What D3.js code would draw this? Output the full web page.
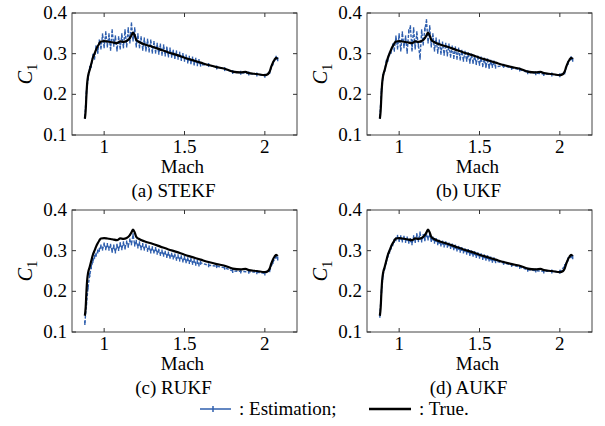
<!DOCTYPE html>
<html>
<head>
<meta charset="utf-8">
<script src="https://cdn.jsdelivr.net/npm/d3@7"></script>
<style>
    body { margin: 0; background: #fff; }
    svg text { font-family: "Liberation Serif"; }
</style>
</head>
<body>
<div id="chart"></div>
<script>

// true C1 curve
let machTrue = [0.88, 0.885, 0.89, 0.895, 0.90, 0.91, 0.92, 0.93, 0.94, 0.95, 0.96, 0.97, 0.98, 1.00, 1.02, 1.05, 1.08, 1.10, 1.12, 1.14,
    1.16, 1.17, 1.18, 1.19, 1.20, 1.22, 1.25, 1.30, 1.35, 1.40, 1.45, 1.50, 1.55, 1.60, 1.65, 1.70, 1.75, 1.80, 1.85, 1.88,
    1.90, 1.95, 2.00, 2.02, 2.03, 2.04, 2.05, 2.06, 2.07, 2.08];
let c1True = [0.140, 0.160, 0.200, 0.230, 0.245, 0.260, 0.275, 0.290, 0.300, 0.310, 0.318, 0.325, 0.330, 0.331, 0.330, 0.328, 0.326, 0.330, 0.329, 0.331,
    0.338, 0.345, 0.352, 0.345, 0.334, 0.328, 0.323, 0.317, 0.310, 0.303, 0.297, 0.290, 0.284, 0.278, 0.272, 0.267, 0.263, 0.256, 0.254, 0.255,
    0.252, 0.250, 0.247, 0.250, 0.256, 0.268, 0.278, 0.285, 0.290, 0.287];

// estimation samples
let machEst = [0.88, 0.89, 0.90, 0.91, 0.92, 0.93, 0.94, 0.95, 0.96, 0.97,
    0.98, 0.99, 1.00, 1.01, 1.02, 1.03, 1.04, 1.05, 1.06, 1.07,
    1.08, 1.09, 1.10, 1.11, 1.12, 1.13, 1.14, 1.15, 1.16, 1.17,
    1.18, 1.19, 1.20, 1.21, 1.22, 1.23, 1.24, 1.25, 1.26, 1.27,
    1.28, 1.29, 1.30, 1.31, 1.32, 1.33, 1.34, 1.35, 1.36, 1.37,
    1.38, 1.39, 1.40, 1.41, 1.42, 1.43, 1.44, 1.45, 1.46, 1.47,
    1.48, 1.49, 1.50, 1.51, 1.52, 1.53, 1.54, 1.55, 1.56, 1.57,
    1.58, 1.59, 1.60, 1.65, 1.70, 1.75, 1.80, 1.85, 1.90, 1.95,
    2.00, 2.03, 2.05, 2.07, 2.08];

let estSTEKF = [0.145, 0.205, 0.240, 0.265, 0.270, 0.295, 0.290, 0.315, 0.305, 0.330,
    0.315, 0.345, 0.318, 0.350, 0.320, 0.345, 0.312, 0.355, 0.322, 0.340,
    0.310, 0.338, 0.315, 0.345, 0.318, 0.355, 0.320, 0.360, 0.330, 0.372,
    0.335, 0.360, 0.320, 0.345, 0.318, 0.338, 0.312, 0.335, 0.310, 0.332,
    0.308, 0.330, 0.305, 0.326, 0.305, 0.322, 0.302, 0.320, 0.300, 0.318,
    0.298, 0.312, 0.296, 0.310, 0.295, 0.305, 0.292, 0.303, 0.290, 0.300,
    0.287, 0.297, 0.285, 0.293, 0.281, 0.290, 0.279, 0.288, 0.276, 0.285,
    0.274, 0.282, 0.273, 0.272, 0.266, 0.262, 0.255, 0.253, 0.251, 0.249,
    0.246, 0.255, 0.276, 0.290, 0.286];

let estUKF = [0.145, 0.210, 0.245, 0.260, 0.280, 0.285, 0.300, 0.305, 0.320, 0.310,
    0.340, 0.315, 0.345, 0.310, 0.350, 0.318, 0.340, 0.305, 0.355, 0.365,
    0.310, 0.360, 0.315, 0.350, 0.320, 0.290, 0.355, 0.325, 0.360, 0.380,
    0.330, 0.365, 0.320, 0.345, 0.310, 0.335, 0.305, 0.330, 0.302, 0.325,
    0.300, 0.322, 0.298, 0.320, 0.295, 0.315, 0.292, 0.313, 0.290, 0.310,
    0.288, 0.305, 0.285, 0.302, 0.285, 0.298, 0.280, 0.295, 0.280, 0.292,
    0.277, 0.290, 0.275, 0.288, 0.272, 0.285, 0.270, 0.283, 0.268, 0.280,
    0.270, 0.278, 0.268, 0.270, 0.265, 0.261, 0.254, 0.252, 0.250, 0.249,
    0.247, 0.254, 0.277, 0.289, 0.285];

let estRUKF = [0.122, 0.170, 0.210, 0.240, 0.260, 0.275, 0.285, 0.290, 0.298, 0.302,
    0.310, 0.305, 0.315, 0.306, 0.314, 0.305, 0.312, 0.300, 0.310, 0.298,
    0.312, 0.304, 0.316, 0.306, 0.318, 0.308, 0.320, 0.312, 0.325, 0.318,
    0.338, 0.315, 0.322, 0.310, 0.318, 0.306, 0.314, 0.305, 0.312, 0.302,
    0.308, 0.298, 0.306, 0.298, 0.304, 0.295, 0.300, 0.292, 0.298, 0.290,
    0.295, 0.287, 0.293, 0.285, 0.290, 0.283, 0.288, 0.280, 0.286, 0.278,
    0.284, 0.276, 0.282, 0.274, 0.279, 0.272, 0.277, 0.270, 0.275, 0.268,
    0.272, 0.266, 0.270, 0.264, 0.262, 0.258, 0.250, 0.249, 0.248, 0.247,
    0.244, 0.252, 0.272, 0.285, 0.281];

let estAUKF = [0.140, 0.200, 0.240, 0.258, 0.272, 0.288, 0.298, 0.308, 0.316, 0.324,
    0.328, 0.334, 0.326, 0.333, 0.325, 0.332, 0.324, 0.330, 0.322, 0.326,
    0.318, 0.333, 0.324, 0.338, 0.326, 0.342, 0.325, 0.336, 0.328, 0.340,
    0.330, 0.338, 0.326, 0.330, 0.322, 0.326, 0.318, 0.322, 0.315, 0.320,
    0.313, 0.318, 0.312, 0.315, 0.309, 0.313, 0.306, 0.310, 0.303, 0.307,
    0.300, 0.304, 0.298, 0.301, 0.295, 0.299, 0.292, 0.296, 0.290, 0.294,
    0.287, 0.291, 0.285, 0.289, 0.282, 0.286, 0.280, 0.284, 0.278, 0.281,
    0.275, 0.279, 0.274, 0.270, 0.265, 0.260, 0.253, 0.251, 0.249, 0.249,
    0.248, 0.262, 0.278, 0.286, 0.284];

let captions = ["(a) STEKF", "(b) UKF", "(c) RUKF", "(d) AUKF"];
let xTicks = [1, 1.5, 2];
let yTicks = [0.1, 0.2, 0.3, 0.4];
let legendLabels = [": Estimation;", ": True."];

let blue = "#2f5fae";
let width = 605, height = 426;

let svg = d3.select("#chart").append("svg")
    .attr("width", width)
    .attr("height", height);

// panel boxes (left, top) in px
let panelPos = [[72, 13], [367, 13], [72, 210], [367, 210]];
let panelW = 225, panelH = 122;
let estimates = [estSTEKF, estUKF, estRUKF, estAUKF];

panelPos.forEach(function(p, i) {
    drawPanel(p[0], p[1], estimates[i], captions[i]);
});

function drawPanel(left, top, est, caption) {
    let g = svg.append("g").attr("transform", `translate(${left},${top})`);

    let x = d3.scaleLinear().domain([0.8, 2.2]).range([0, panelW]);
    let y = d3.scaleLinear().domain([0.1, 0.4]).range([panelH, 0]);

    // box
    g.append("rect")
        .attr("width", panelW).attr("height", panelH)
        .attr("fill", "none").attr("stroke", "#444").attr("stroke-width", 1);

    // inward ticks, all four sides
    let tickLen = 4;
    xTicks.forEach(function(t) {
        g.append("line").attr("x1", x(t)).attr("x2", x(t)).attr("y1", panelH).attr("y2", panelH - tickLen).attr("stroke", "#333");
        g.append("line").attr("x1", x(t)).attr("x2", x(t)).attr("y1", 0).attr("y2", tickLen).attr("stroke", "#333");
        g.append("text").attr("x", x(t)).attr("y", panelH + 18)
            .attr("text-anchor", "middle").style("font-size", "19px").text(t);
    });
    yTicks.forEach(function(t) {
        g.append("line").attr("x1", 0).attr("x2", tickLen).attr("y1", y(t)).attr("y2", y(t)).attr("stroke", "#333");
        g.append("line").attr("x1", panelW).attr("x2", panelW - tickLen).attr("y1", y(t)).attr("y2", y(t)).attr("stroke", "#333");
        g.append("text").attr("x", -5).attr("y", y(t) + 6)
            .attr("text-anchor", "end").style("font-size", "19px").text(t.toFixed(1));
    });

    // estimation line with + markers
    let estData = machEst.map((m, k) => [m, est[k]]);
    let line = d3.line().x(d => x(d[0])).y(d => y(d[1]));

    g.append("path").datum(estData)
        .attr("d", line)
        .attr("fill", "none").attr("stroke", blue).attr("stroke-width", 1.4)
        .attr("stroke-dasharray", "3,1.5");

    g.selectAll(".mark").data(estData).enter().append("line")
        .attr("x1", d => x(d[0])).attr("x2", d => x(d[0]))
        .attr("y1", d => y(d[1]) - 2).attr("y2", d => y(d[1]) + 2)
        .attr("stroke", blue).attr("stroke-width", 1.4);

    // true curve
    let trueData = machTrue.map((m, k) => [m, c1True[k]]);
    g.append("path").datum(trueData)
        .attr("d", line.curve(d3.curveMonotoneX))
        .attr("fill", "none").attr("stroke", "#000").attr("stroke-width", 2.2);

    // axis labels
    let yl = g.append("text")
        .attr("transform", `translate(-40,${panelH / 2}) rotate(-90)`)
        .attr("text-anchor", "middle")
        .style("font-size", "20px");
    yl.append("tspan").style("font-style", "italic").text("C");
    yl.append("tspan").attr("dy", 5).style("font-size", "14px").text("1");

    g.append("text").attr("x", panelW / 2 - 2).attr("y", panelH + 38)
        .attr("text-anchor", "middle").style("font-size", "19px").text("Mach");

    g.append("text").attr("x", panelW / 2 - 11).attr("y", panelH + 62)
        .attr("text-anchor", "middle").style("font-size", "19px").text(caption);
}

// legend
let lg = svg.append("g");
lg.append("line").attr("x1", 200).attr("x2", 231).attr("y1", 409).attr("y2", 409)
    .attr("stroke", blue).attr("stroke-width", 1.5);
lg.append("line").attr("x1", 213).attr("x2", 213).attr("y1", 406).attr("y2", 412)
    .attr("stroke", blue).attr("stroke-width", 1.5);
lg.append("text").attr("x", 239).attr("y", 415).style("font-size", "19px").text(legendLabels[0]);
lg.append("line").attr("x1", 369).attr("x2", 411).attr("y1", 409).attr("y2", 409)
    .attr("stroke", "#000").attr("stroke-width", 2.5);
lg.append("text").attr("x", 419).attr("y", 415).style("font-size", "19px").text(legendLabels[1]);

</script>
</body>
</html>
